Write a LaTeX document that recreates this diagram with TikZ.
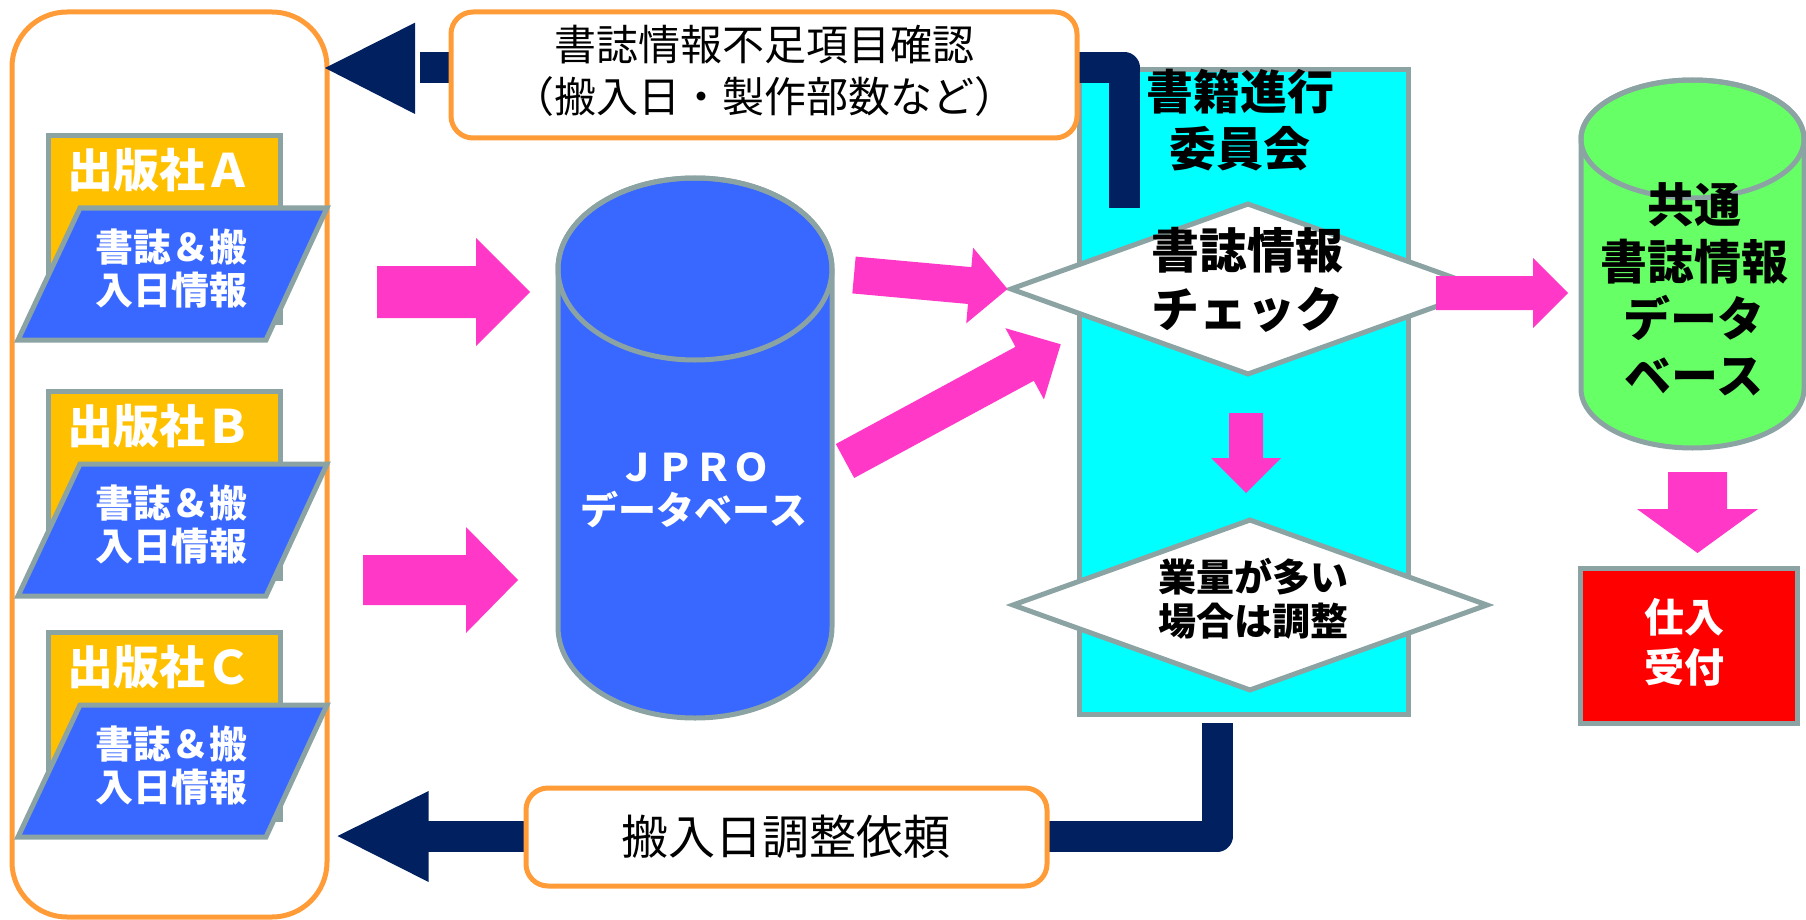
\documentclass[tikz,border=0pt]{standalone}
\usepackage{fontspec}
\setmainfont{Noto Sans CJK JP}
\usetikzlibrary{calc,shapes.geometric}
\definecolor{orng}{HTML}{FF9C38}
\definecolor{navy}{HTML}{002060}
\definecolor{pinkc}{HTML}{FF38C8}
\definecolor{bluec}{HTML}{3868FF}
\definecolor{grayb}{HTML}{8CA3A3}
\definecolor{yell}{HTML}{FFC000}
\definecolor{cyanc}{HTML}{00FFFF}
\definecolor{greenc}{HTML}{66FF66}
\definecolor{redc}{HTML}{FF0000}
% block arrow: from, to, shaft half width, head half width, head length (pt)
\newcommand\blockarrow[5]{%
  \coordinate (bah) at ($(#2)!#5pt!(#1)$);
  \fill[pinkc] ($(#1)!#3pt!90:(#2)$) -- ($(bah)!#3pt!90:(#2)$) -- ($(bah)!#4pt!90:(#2)$)
    -- (#2) -- ($(bah)!#4pt!-90:(#2)$) -- ($(bah)!#3pt!-90:(#2)$) -- ($(#1)!#3pt!-90:(#2)$) -- cycle;}
% publisher block: name, top y, letter
\newcommand\publisher[3]{%
  \node[graybox,fill=yell,minimum width=231.5pt,minimum height=187pt] (pub#1) at (46,#2) {};
  \node[txt,bf={46}{50},text=white] (pub#1name) at (159,{#2+37}) {出版社#3};
  \draw[grayline,fill=bluec] (80,{#2+75}) -- (327,{#2+75}) -- (266,{#2+207}) -- (18,{#2+207}) -- cycle;
  \node[txt,bf={38}{43},text=white] (pub#1info) at (171.5,{#2+135.5}) {書誌＆搬\\入日情報};}
\begin{document}
\begin{tikzpicture}[x=1pt,y=-1pt,
  bf/.style 2 args={font=\fontsize{#1}{#2}\selectfont\bfseries},
  rg/.style 2 args={font=\fontsize{#1}{#2}\selectfont},
  txt/.style={inner sep=0pt,align=center},
  grayline/.style={draw=grayb,line width=5pt},
  graybox/.style={grayline,inner sep=0pt,anchor=north west},
  notebox/.style={draw=orng,line width=5pt,fill=white,rounded corners=22pt,inner sep=0pt},
  navyline/.style={draw=navy,line width=31pt,line join=round},
  decision/.style={diamond,grayline,fill=white,inner sep=0pt,minimum width=476pt,minimum height=172pt},
]
\useasboundingbox (0,0) rectangle (1806,920);
\fill[white] (0,0) rectangle (1806,920);

% publishers frame
\node[draw=orng,line width=5pt,fill=white,rounded corners=55pt,inner sep=0pt,
      minimum width=315pt,minimum height=905pt] (pubs) at (169.5,464.5) {};
\publisher{A}{133}{Ａ}
\publisher{B}{389}{Ｂ}
\publisher{C}{630}{Ｃ}

% committee column
\node[graybox,fill=cyanc,minimum width=329pt,minimum height=645pt] (cmte) at (1077,67) {};
\node[txt,bf={47}{57}] (cmtetitle) at (1240,120.5) {書籍進行\\委員会};
\node[decision] (chk) at (1248,289) {};
\node[txt,bf={48}{59}] (chktext) at (1247,279.5) {書誌情報\\チェック};
\node[decision] (adj) at (1250,605) {};
\node[txt,bf={38}{44}] (adjtext) at (1253,599) {業量が多い\\場合は調整};

% JPRO database
\path[grayline,fill=bluec] (558,269) -- (558,627)
  arc[start angle=180,end angle=360,x radius=137pt,y radius=91pt] -- (832,269)
  arc[start angle=0,end angle=180,x radius=137pt,y radius=91pt] -- cycle;
\draw[grayline] (695,269) ellipse[x radius=137pt,y radius=91pt];
\node[txt,bf={38}{43},text=white] (jpro) at (694,490.5) {ＪＰＲＯ\\データベース};

% common database
\path[grayline,fill=greenc] (1581,139) -- (1581,389)
  arc[start angle=180,end angle=360,x radius=111.5pt,y radius=59pt] -- (1804,139)
  arc[start angle=0,end angle=180,x radius=111.5pt,y radius=59pt] -- cycle;
\draw[grayline] (1692.5,139) ellipse[x radius=111.5pt,y radius=59pt];
\node[txt,bf={47}{57}] (common) at (1694,289.5) {共通\\書誌情報\\データ\\ベース};

% purchase reception
\node[grayline,fill=redc,inner sep=0pt,minimum width=217pt,minimum height=155pt] (recv) at (1688.5,645.5) {};
\node[txt,bf={40}{50},text=white] (recvtext) at (1684,642) {仕入\\受付};

% pink arrows
\coordinate (paAs) at (377,292); \coordinate (paAe) at (530,292);
\blockarrow{paAs}{paAe}{26}{54}{54}
\coordinate (paBs) at (363,580); \coordinate (paBe) at (518,580);
\blockarrow{paBs}{paBe}{25}{53}{52}
\coordinate (pcS) at (854,275);
\blockarrow{pcS}{chk.west}{18.5}{38}{38}
\coordinate (pdS) at (845,461); \coordinate (pdE) at (1060.7,344.3);
\blockarrow{pdS}{pdE}{19.3}{40.5}{41}
\coordinate (peS) at (1436,293); \coordinate (peE) at (1568,293);
\blockarrow{peS}{peE}{17}{35}{35}
\coordinate (pfS) at (1246,413); \coordinate (pfE) at (1246,493);
\blockarrow{pfS}{pfE}{17}{35}{35}
\coordinate (pgS) at (1697.5,472); \coordinate (pgE) at (1697.5,553);
\blockarrow{pgS}{pgE}{29.5}{60.5}{44}

% navy feedback connectors
\coordinate (ntS) at (1124.5,208); \coordinate (ntE) at (420,68);
\draw[navyline] (ntS) |- (ntE);
\fill[navy] (325,68) -- (415,22.7) -- (415,114) -- cycle;
\coordinate (nbS) at (1217,723); \coordinate (nbE) at (424,836);
\draw[navyline] (nbS) |- (nbE);
\fill[navy] (337.5,836) -- (428.6,791) -- (428.6,882) -- cycle;

% notes
\node[notebox,minimum width=626pt,minimum height=126pt] (topnote) at (764,75) {};
\node[txt,rg={42}{52}] (topnotetext) at (764,71) {書誌情報不足項目確認\\（搬入日・製作部数など）};
\node[notebox,minimum width=521pt,minimum height=98pt] (botnote) at (786.5,837) {};
\node[txt,rg={47}{52}] (botnotetext) at (786,837) {搬入日調整依頼};
\end{tikzpicture}
\end{document}
